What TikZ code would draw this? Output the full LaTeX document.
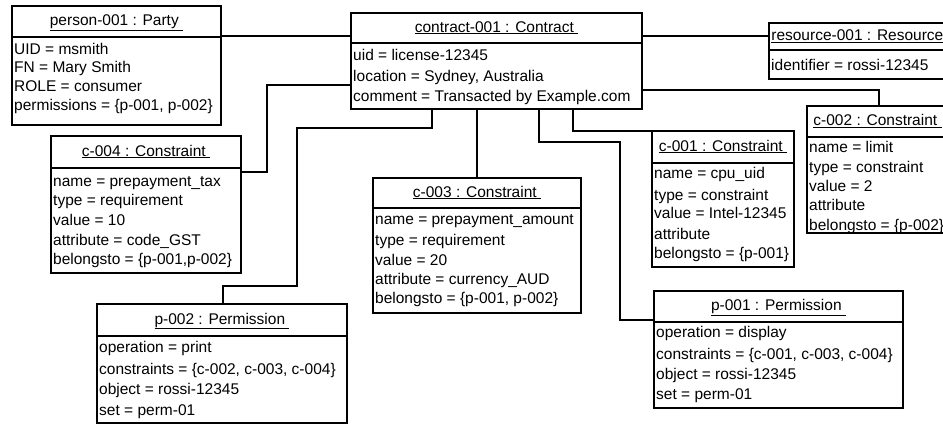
\documentclass[tikz,border=0pt]{standalone}
\usepackage{fontspec}
\setmainfont{Liberation Sans}
\newcommand\objfont{\fontsize{15.5}{18}\selectfont}
\newcommand\umlobj[7]{%
  \node[objbox, anchor=north west, minimum width={#4pt-#2pt}, minimum height={#5pt-#3pt}] (#1) at (#2,#3) {};
  \draw[sepline] (#2,#6) -- (#4,#6);
  \node[ttl] (#1-title) at ({(#2+#4)/2},{(#3+#6)/2}) {\underline{#7\ }};
}
\begin{document}
\begin{tikzpicture}[x=1pt,y=-1pt,
  objbox/.style={draw, rectangle, line width=1.6pt, inner sep=0pt, outer sep=0pt, fill=white},
  sepline/.style={line width=1.6pt},
  conn/.style={line width=1.1pt},
  ttl/.style={inner sep=0pt, text height=11pt, text depth=3pt, font=\objfont},
  attr/.style={inner sep=0pt, anchor=west, text height=11pt, text depth=3pt, font=\objfont}]
\useasboundingbox (0,0) rectangle (943,424);
\clip (0,0) rectangle (943,424);

% person
\umlobj{person}{12}{6}{221}{125}{37}{person-001 : Party}
\node[attr] (person-r1) at (14,50) {UID = msmith};
\node[attr] (person-r2) at (14,68.5) {FN = Mary Smith};
\node[attr] (person-r3) at (14,87) {ROLE = consumer};
\node[attr] (person-r4) at (14,106) {permissions = \{p-001, p-002\}};

% contract
\umlobj{contract}{351}{13}{642}{109}{43}{contract-001 : Contract}
\node[attr] (contract-r1) at (353,56) {uid = license-12345};
\node[attr] (contract-r2) at (353,77) {location = Sydney, Australia};
\node[attr] (contract-r3) at (353,97) {comment = Transacted by Example.com};

% resource
\umlobj{resource}{769}{23}{950}{79}{50}{resource-001 : Resource}
\node[attr] (resource-r1) at (771,66) {identifier = rossi-12345};

% c-002
\umlobj{c002}{807}{106}{948}{233}{137}{c-002 : Constraint}
\node[attr] (c002-r1) at (809,148) {name = limit};
\node[attr] (c002-r2) at (809,168) {type = constraint};
\node[attr] (c002-r3) at (809,187) {value = 2};
\node[attr] (c002-r4) at (809,206) {attribute};
\node[attr] (c002-r5) at (809,226) {belongsto = \{p-002\}};

% c-004
\umlobj{c004}{51}{136}{241}{273}{168}{c-004 : Constraint}
\node[attr] (c004-r1) at (53,182) {name = prepayment\_tax};
\node[attr] (c004-r2) at (53,201) {type = requirement};
\node[attr] (c004-r3) at (53,221) {value = 10};
\node[attr] (c004-r4) at (53,241) {attribute = code\_GST};
\node[attr] (c004-r5) at (53,260) {belongsto = \{p-001,p-002\}};

% c-003
\umlobj{c003}{373}{178}{581}{313}{208}{c-003 : Constraint}
\node[attr] (c003-r1) at (375,220) {name = prepayment\_amount};
\node[attr] (c003-r2) at (375,241) {type = requirement};
\node[attr] (c003-r3) at (375,261) {value = 20};
\node[attr] (c003-r4) at (375,280) {attribute = currency\_AUD};
\node[attr] (c003-r5) at (375,299) {belongsto = \{p-001, p-002\}};

% c-001
\umlobj{c001}{652}{131}{794}{267}{163}{c-001 : Constraint}
\node[attr] (c001-r1) at (654,174) {name = cpu\_uid};
\node[attr] (c001-r2) at (654,196) {type = constraint};
\node[attr] (c001-r3) at (654,214) {value = Intel-12345};
\node[attr] (c001-r4) at (654,235) {attribute};
\node[attr] (c001-r5) at (654,254) {belongsto = \{p-001\}};

% p-002
\umlobj{p002}{97}{304}{347}{423}{336}{p-002 : Permission}
\node[attr] (p002-r1) at (99,348) {operation = print};
\node[attr] (p002-r2) at (99,370) {constraints = \{c-002, c-003, c-004\}};
\node[attr] (p002-r3) at (99,390) {object = rossi-12345};
\node[attr] (p002-r4) at (99,411) {set = perm-01};

% p-001
\umlobj{p001}{654}{291}{903}{408}{322}{p-001 : Permission}
\node[attr] (p001-r1) at (656,333) {operation = display};
\node[attr] (p001-r2) at (656,355) {constraints = \{c-001, c-003, c-004\}};
\node[attr] (p001-r3) at (656,375) {object = rossi-12345};
\node[attr] (p001-r4) at (656,395) {set = perm-01};

% connectors
\draw[conn] (person.east |- 0,36) -- (contract.west |- 0,36);
\draw[conn] (contract.east |- 0,36) -- (resource.west |- 0,36);
\draw[conn] (contract.east |- 0,90) -| (c002.north -| 879,0);
\draw[conn] (contract.west |- 0,85) -| (267,172) -- (c004.east |- 0,172);
\draw[conn] (contract.south -| 432,0) -- (432,128) -| (297,286) -| (p002.north -| 223,0);
\draw[conn] (contract.south -| 477,0) -- (c003.north -| 477,0);
\draw[conn] (contract.south -| 539,0) -- (539,142) -| (620,320) -- (p001.west |- 0,320);
\draw[conn] (contract.south -| 573,0) |- (c001.north west);
\end{tikzpicture}
\end{document}
